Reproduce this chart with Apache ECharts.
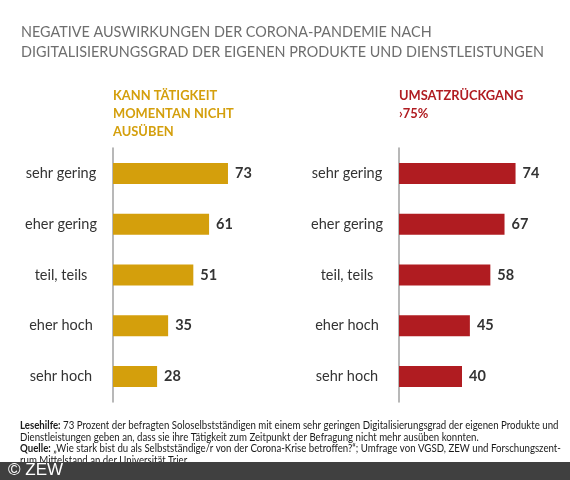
<!DOCTYPE html>
<html><head><meta charset="utf-8">
<script src="https://cdn.jsdelivr.net/npm/echarts@6/dist/echarts.min.js"></script>
<style>html,body{margin:0;padding:0;background:#fff}#c{width:570px;height:480px}</style>
</head><body><div id="c"></div>
<script>
const categories = ['sehr gering', 'eher gering', 'teil, teils', 'eher hoch', 'sehr hoch'];
const kannNicht = [73, 61, 51, 35, 28];
const umsatz = [74, 67, 58, 45, 40];
const titleLines = ['NEGATIVE AUSWIRKUNGEN DER CORONA-PANDEMIE NACH', 'DIGITALISIERUNGSGRAD DER EIGENEN PRODUKTE UND DIENSTLEISTUNGEN'];
const leftHead = ['KANN TÄTIGKEIT', 'MOMENTAN NICHT', 'AUSÜBEN'];
const rightHead = ['UMSATZRÜCKGANG', '›75%'];

const F = 'Lato, "Noto Sans", sans-serif';
const GOLD = '#d49f0c', RED = '#b01c21';

const chart = echarts.init(document.getElementById('c'), null, {renderer: 'canvas'});

function grid(left){ return {left: left, top: 148, width: 157.5, height: 254, containLabel: false}; }
function yAx(i){ return {type:'category', gridIndex:i, data: categories, inverse:true,
  axisLine:{show:true, lineStyle:{color:'#a0a0a0', width:1.5}}, axisTick:{show:false},
  axisLabel:{color:'#333', fontFamily:F, fontSize:14.5, align:'center', margin:52}}; }
function xAx(i){ return {type:'value', gridIndex:i, min:0, max:100, show:false, splitLine:{show:false}}; }
function ser(i, data, color){ return {type:'bar', xAxisIndex:i, yAxisIndex:i, data:data, barWidth:21,
  itemStyle:{color:color}, label:{show:true, position:'right', distance:7, color:'#333', fontFamily:F, fontSize:14.5, fontWeight:'bold'}, silent:true, animation:false}; }

const graphics = [];
titleLines.forEach((t, k) => graphics.push({type:'text', x:21, y:25 + k*20, style:{text:t, fill:'#6e6e6e', font:'14.4px ' + F}}));
leftHead.forEach((t, k) => graphics.push({type:'text', x:113, y:88 + k*18, scaleX:0.92, style:{text:t, fill:GOLD, font:'bold 14px ' + F}}));
rightHead.forEach((t, k) => graphics.push({type:'text', x:399, y:88 + k*18, scaleX:0.92, style:{text:t, fill:RED, font:'bold 14px ' + F}}));

const footer = [
  ['Lesehilfe:', ' 73 Prozent der befragten Soloselbstständigen mit einem sehr geringen Digitalisierungsgrad der eigenen Produkte und'],
  ['', 'Dienstleistungen geben an, dass sie ihre Tätigkeit zum Zeitpunkt der Befragung nicht mehr ausüben konnten.'],
  ['Quelle:', ' „Wie stark bist du als Selbstständige/r von der Corona-Krise betroffen?“; Umfrage von VGSD, ZEW und Forschungszent-'],
  ['', 'rum Mittelstand an der Universität Trier.']
];
footer.forEach((l, k) => graphics.push({type:'text', x:20, y:420 + k*11.7, scaleX:0.92, z:10, style:{
  text: (l[0] ? '{b|' + l[0] + '}' : '') + '{n|' + l[1] + '}',
  rich:{b:{fontFamily:F, fontSize:10.5, fontWeight:'bold', fill:'#1a1a1a'}, n:{fontFamily:F, fontSize:10.5, fill:'#1a1a1a'}}
}}));
graphics.push({type:'rect', x:0, y:462, z:20, shape:{width:570, height:18}, style:{fill:'#404040'}});
graphics.push({type:'text', x:8, y:462, z:21, style:{text:'© ZEW', fill:'#fff', font:'17px "Liberation Sans", Arial, sans-serif'}});

chart.setOption({
  animation:false,
  grid:[grid(113), grid(399)],
  xAxis:[xAx(0), xAx(1)],
  yAxis:[yAx(0), yAx(1)],
  series:[ser(0, kannNicht, GOLD), ser(1, umsatz, RED)],
  graphic: graphics
});
</script></body></html>
